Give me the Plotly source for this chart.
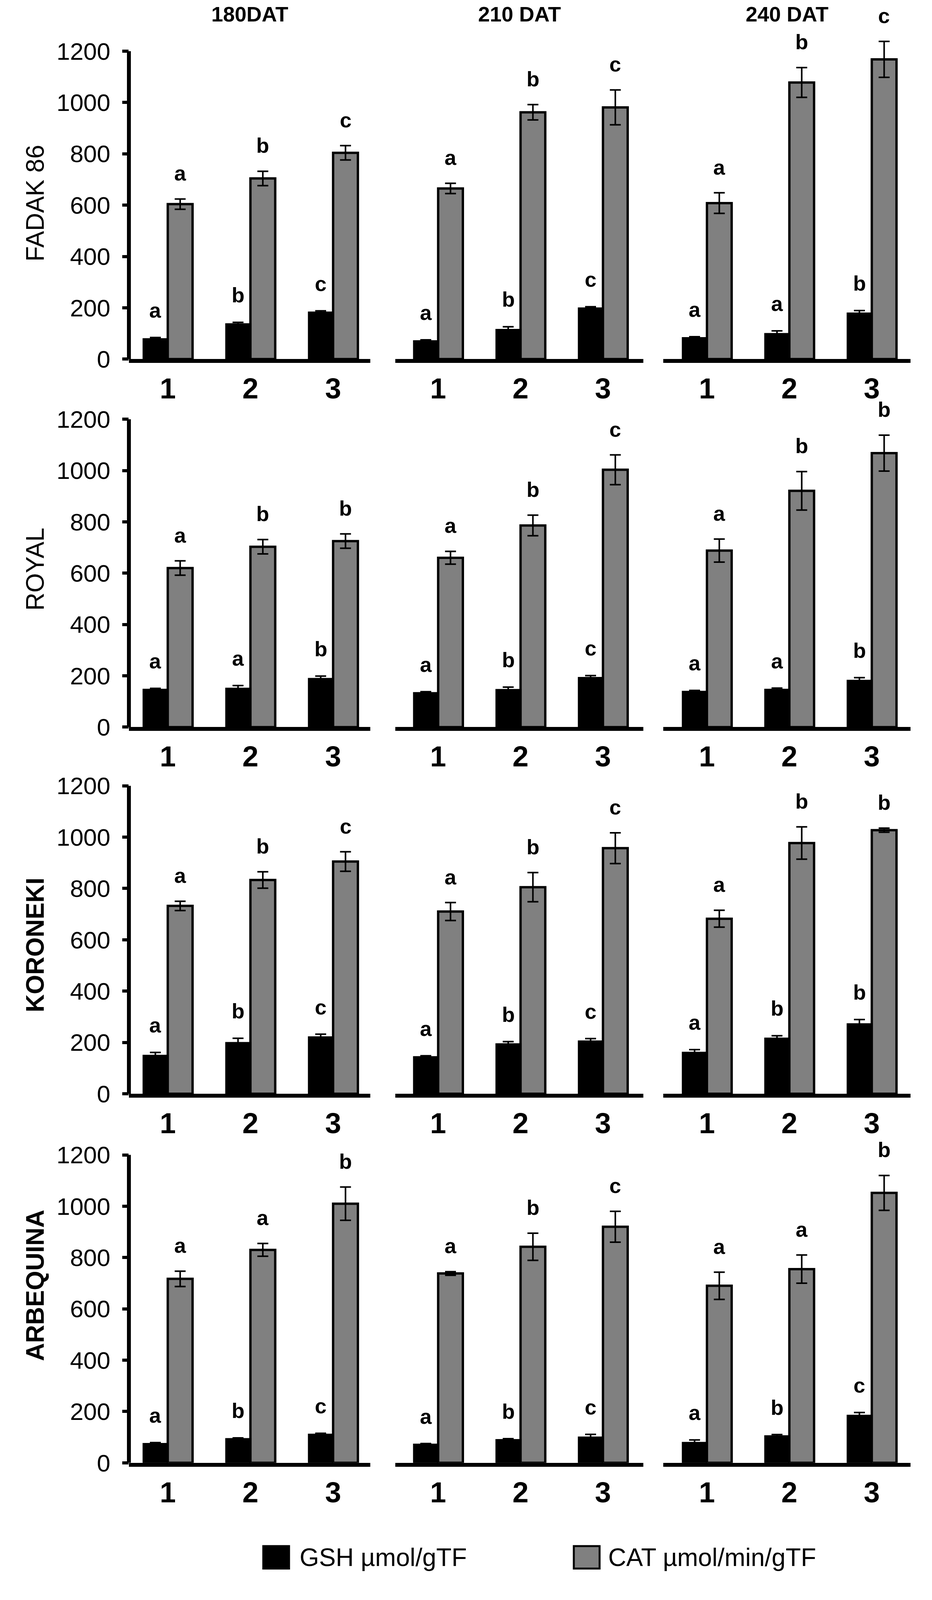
import plotly.graph_objects as go
from plotly.subplots import make_subplots

# ---------------- data ----------------
cultivars = ["FADAK 86", "ROYAL", "KORONEKI", "ARBEQUINA"]
cultivar_bold = [False, False, True, True]
periods = ["180DAT", "210 DAT", "240 DAT"]
treatments = ["1", "2", "3"]
y_ticks = [0, 200, 400, 600, 800, 1000, 1200]
legend_labels = ["GSH µmol/gTF", "CAT µmol/min/gTF"]

# each list: [180DAT, 210 DAT, 240 DAT] x treatments [1, 2, 3]
fadak_gsh = [[80, 138, 184], [72, 116, 200], [84, 100, 180]]
fadak_gsh_err = [[4, 5, 4], [3, 10, 4], [3, 10, 9]]
fadak_cat = [[604, 704, 804], [665, 962, 981], [608, 1078, 1168]]
fadak_cat_err = [[20, 28, 28], [20, 30, 68], [40, 58, 70]]
fadak_gsh_letters = [["a", "b", "c"], ["a", "b", "c"], ["a", "a", "b"]]
fadak_cat_letters = [["a", "b", "c"], ["a", "b", "c"], ["a", "b", "c"]]

royal_gsh = [[148, 152, 190], [135, 147, 194], [140, 148, 183]]
royal_gsh_err = [[3, 10, 9], [3, 9, 7], [3, 4, 10]]
royal_cat = [[620, 703, 725], [660, 786, 1003], [688, 921, 1068]]
royal_cat_err = [[28, 28, 28], [25, 40, 58], [45, 75, 70]]
royal_gsh_letters = [["a", "a", "b"], ["a", "b", "c"], ["a", "a", "b"]]
royal_cat_letters = [["a", "b", "b"], ["a", "b", "c"], ["a", "b", "b"]]

koroneki_gsh = [[150, 200, 222], [145, 195, 206], [162, 217, 273]]
koroneki_gsh_err = [[11, 16, 10], [3, 8, 9], [10, 9, 16]]
koroneki_cat = [[732, 833, 905], [710, 805, 957], [682, 977, 1027]]
koroneki_cat_err = [[18, 32, 38], [35, 57, 60], [33, 63, 8]]
koroneki_gsh_letters = [["a", "b", "c"], ["a", "b", "c"], ["a", "b", "b"]]
koroneki_cat_letters = [["a", "b", "c"], ["a", "b", "c"], ["a", "b", "b"]]

arbequina_gsh = [[76, 95, 112], [73, 91, 101], [80, 106, 186]]
arbequina_gsh_err = [[3, 2, 3], [2, 3, 10], [9, 4, 10]]
arbequina_cat = [[717, 830, 1010], [738, 842, 920], [690, 755, 1052]]
arbequina_cat_err = [[30, 25, 65], [7, 53, 60], [53, 55, 68]]
arbequina_gsh_letters = [["a", "b", "c"], ["a", "b", "c"], ["a", "b", "c"]]
arbequina_cat_letters = [["a", "a", "b"], ["a", "b", "c"], ["a", "a", "b"]]

gsh_all = [fadak_gsh, royal_gsh, koroneki_gsh, arbequina_gsh]
gsh_err_all = [fadak_gsh_err, royal_gsh_err, koroneki_gsh_err, arbequina_gsh_err]
cat_all = [fadak_cat, royal_cat, koroneki_cat, arbequina_cat]
cat_err_all = [fadak_cat_err, royal_cat_err, koroneki_cat_err, arbequina_cat_err]
gsh_letters_all = [fadak_gsh_letters, royal_gsh_letters, koroneki_gsh_letters, arbequina_gsh_letters]
cat_letters_all = [fadak_cat_letters, royal_cat_letters, koroneki_cat_letters, arbequina_cat_letters]

# ---------------- layout geometry (pixels) ----------------
W = 2386
REF_H = 4431
H = 4096                    # visible page height in the headless browser
k = H / REF_H               # vertical scale so the whole chart stays visible
FONT = "Liberation Sans, Arial, sans-serif"
col_px = [(330, 948), (1012, 1647), (1698, 2331)]
col_xrange = [[-0.47, 2.45], [-0.52, 2.49], [-0.53, 2.47]]
zero_px = [1003 * k, 2031 * k, 3055 * k, 4086 * k]
px_per_1200 = 860.0 * k
y_max = 1330
bargap = 0.40
row_label_cy = [568 * k, 1590 * k, 2640 * k, 3590 * k]
row_label_cx = 90
title_cy = 39 * k
leg_cy = 4350 * k

GSH_COLOR = "#000000"
CAT_COLOR = "#808080"

fig = make_subplots(rows=4, cols=3)

x_idx = list(range(len(treatments)))
half = (1 - bargap) / 4.0

for r in range(4):
    for c in range(3):
        n = r * 3 + c + 1
        xa = "x" if n == 1 else f"x{n}"
        ya = "y" if n == 1 else f"y{n}"
        fig.add_trace(go.Bar(
            x=x_idx, y=gsh_all[r][c], name=legend_labels[0],
            marker=dict(color=GSH_COLOR, line=dict(color="black", width=2)),
            error_y=dict(type="data", array=gsh_err_all[r][c], color="black",
                         thickness=4, width=14),
            showlegend=False, offsetgroup="gsh",
        ), row=r + 1, col=c + 1)
        fig.add_trace(go.Bar(
            x=x_idx, y=cat_all[r][c], name=legend_labels[1],
            marker=dict(color=CAT_COLOR, line=dict(color="black", width=6)),
            error_y=dict(type="data", array=cat_err_all[r][c], color="black",
                         thickness=4, width=14),
            showlegend=False, offsetgroup="cat",
        ), row=r + 1, col=c + 1)

        # significance letters
        for i in x_idx:
            fig.add_annotation(
                x=i - half, y=gsh_all[r][c][i] + gsh_err_all[r][c][i],
                xref=xa, yref=ya, text=f"<b>{gsh_letters_all[r][c][i]}</b>",
                showarrow=False, xanchor="center", yanchor="bottom", yshift=38,
                font=dict(family=FONT, size=54, color="black"))
            fig.add_annotation(
                x=i + half, y=cat_all[r][c][i] + cat_err_all[r][c][i],
                xref=xa, yref=ya, text=f"<b>{cat_letters_all[r][c][i]}</b>",
                showarrow=False, xanchor="center", yanchor="bottom", yshift=34,
                font=dict(family=FONT, size=54, color="black"))

        x0, x1 = col_px[c]
        z = zero_px[r]
        top = z - y_max / 1200.0 * px_per_1200
        fig.update_xaxes(
            domain=[x0 / W, x1 / W], range=col_xrange[c],
            tickvals=x_idx, ticktext=[f"<b>{t}</b>" for t in treatments],
            tickfont=dict(family=FONT, size=74, color="black"),
            showline=True, linecolor="black", linewidth=10,
            ticks="", showgrid=False, zeroline=False, ticklabelstandoff=2,
            row=r + 1, col=c + 1)
        fig.update_yaxes(
            domain=[1 - z / H, 1 - top / H], range=[0, y_max],
            showgrid=False, zeroline=False, showline=False,
            row=r + 1, col=c + 1)
        if c == 0:
            fig.update_yaxes(
                tickvals=y_ticks, ticktext=[str(t) for t in y_ticks],
                ticks="outside", ticklen=16, tickwidth=8, tickcolor="black",
                tickfont=dict(family=FONT, size=62, color="black"),
                ticklabelstandoff=18,
                row=r + 1, col=c + 1)
            fig.add_shape(type="line", xref=f"{xa} domain", yref=ya,
                          x0=0, x1=0, y0=0, y1=y_ticks[-1],
                          line=dict(color="black", width=10))
        else:
            fig.update_yaxes(showticklabels=False, ticks="", row=r + 1, col=c + 1)

# column titles
for c in range(3):
    x0, x1 = col_px[c]
    fig.add_annotation(x=(x0 + x1) / 2 / W, y=1 - title_cy / H, xref="paper", yref="paper",
                       text=f"<b>{periods[c]}</b>", showarrow=False,
                       xanchor="center", yanchor="middle",
                       font=dict(family=FONT, size=54, color="black"))

# row labels
for r in range(4):
    txt = cultivars[r]
    if cultivar_bold[r]:
        txt = f"<b>{txt}</b>"
    fig.add_annotation(x=row_label_cx / W, y=1 - row_label_cy[r] / H, xref="paper", yref="paper",
                       text=txt, textangle=-90, showarrow=False,
                       xanchor="center", yanchor="middle",
                       font=dict(family=FONT, size=64, color="black"))

# legend (drawn manually)
leg_items = [(674, GSH_COLOR, 765), (1469, CAT_COLOR, 1555)]
for j, (sx, col, tx) in enumerate(leg_items):
    fig.add_shape(type="rect", xref="paper", yref="paper",
                  x0=sx / W, x1=(sx + 66) / W,
                  y0=1 - (leg_cy + 29) / H, y1=1 - (leg_cy - 29) / H,
                  fillcolor=col, line=dict(color="black", width=5))
    fig.add_annotation(x=tx / W, y=1 - leg_cy / H, xref="paper", yref="paper",
                       text=legend_labels[j], showarrow=False,
                       xanchor="left", yanchor="middle",
                       font=dict(family=FONT, size=64, color="black"))

fig.update_layout(
    width=W, height=H, margin=dict(l=0, r=0, t=0, b=0),
    paper_bgcolor="white", plot_bgcolor="white",
    barmode="group", bargap=bargap, bargroupgap=0,
    showlegend=False,
)

fig.write_html("out.html", config={"displayModeBar": False},
               post_script="document.body.style.margin='0';")
